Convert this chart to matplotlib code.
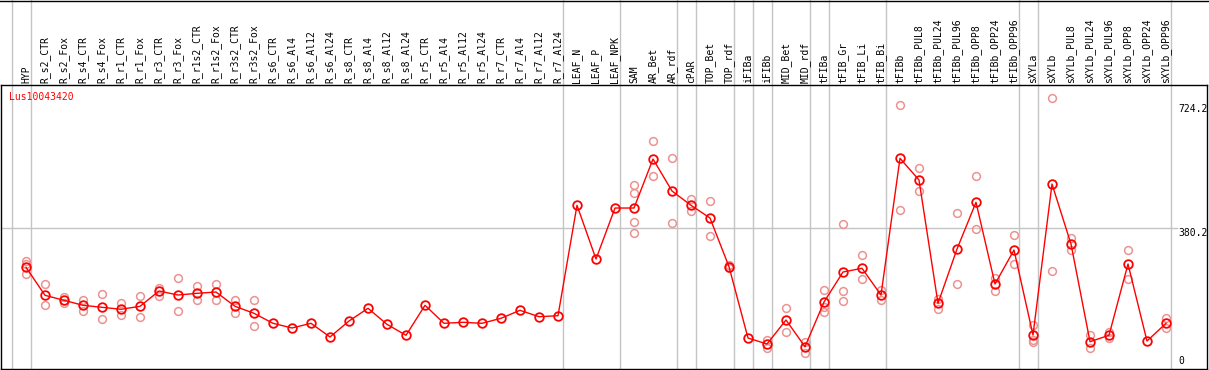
import matplotlib
matplotlib.use("Agg")
import matplotlib.pyplot as plt
from matplotlib.transforms import blended_transform_factory
from matplotlib.lines import Line2D

gene = "Lus10043420"

labels = ["HYP", "R_s2_CTR", "R_s2_Fox", "R_s4_CTR", "R_s4_Fox", "R_r1_CTR", "R_r1_Fox",
          "R_r3_CTR", "R_r3_Fox", "R_r1s2_CTR", "R_r1s2_Fox", "R_r3s2_CTR", "R_r3s2_Fox",
          "R_s6_CTR", "R_s6_Al4", "R_s6_Al12", "R_s6_Al24", "R_s8_CTR", "R_s8_Al4",
          "R_s8_Al12", "R_s8_Al24", "R_r5_CTR", "R_r5_Al4", "R_r5_Al12", "R_r5_Al24",
          "R_r7_CTR", "R_r7_Al4", "R_r7_Al12", "R_r7_Al24", "LEAF_N", "LEAF_P", "LEAF_NPK",
          "SAM", "AR_Bet", "AR_rdf", "cPAR", "TOP_Bet", "TOP_rdf", "iFIBa", "iFIBb",
          "MID_Bet", "MID_rdf", "tFIBa", "tFIB_Gr", "tFIB_Li", "tFIB_Bi", "tFIBb",
          "tFIBb_PUL8", "tFIBb_PUL24", "tFIBb_PUL96", "tFIBb_OPP8", "tFIBb_OPP24",
          "tFIBb_OPP96", "sXYLa", "sXYLb", "sXYLb_PUL8", "sXYLb_PUL24", "sXYLb_PUL96",
          "sXYLb_OPP8", "sXYLb_OPP24", "sXYLb_OPP96"]

means = [272.5, 195.2, 181.4, 167.6, 162.1, 156.6, 164.8, 207.1, 196.0, 200.7, 204.3,
         164.8, 145.5, 117.9, 104.9, 117.9, 80.1, 124.2, 159.3, 115.1, 84.8, 167.6,
         117.9, 120.7, 117.9, 131.7, 153.8, 136.1, 138.9, 443.7, 295.4, 436.2, 436.2,
         571.5, 483.2, 443.7, 408.6, 274.2, 77.3, 60.7, 127.0, 53.3, 176.7, 259.5,
         269.8, 196.0, 573.5, 513.6, 173.1, 323.0, 452.0, 226.4, 320.3, 85.6, 502.5,
         336.8, 67.1, 84.8, 281.6, 69.0, 117.9]

replicates = [
    [290.7, 282.5, 254.0], [225.6, 167.6], [191.3, 173.1], [182.2, 152.7], [198.8, 129.8],
    [173.1, 141.6], [192.4, 134.5], [216.2, 194.1], [242.1, 151.9], [220.9, 181.4],
    [225.6, 181.4], [182.2, 145.5], [182.2, 109.6], [], [], [], [], [], [], [], [], [],
    [], [], [], [], [], [], [], [], [], [],
    [499.8, 476.8, 396.8, 366.4], [621.2, 523.8], [574.3, 394.0], [460.3, 428.8],
    [455.6, 358.9], [278.0, 270.0], [], [71.8, 48.9], [159.3, 93.9], [67.1, 36.7],
    [209.8, 163.7, 149.9], [391.2, 207.1, 179.5], [306.5, 239.4], [209.8, 182.2],
    [719.8, 430.7], [545.9, 482.4], [185.0, 158.2], [421.6, 226.4], [523.8, 377.4],
    [243.8, 206.3], [360.9, 280.8], [113.2, 71.8, 67.1], [739.1, 261.5], [353.4, 320.3],
    [85.6, 48.9], [94.7, 76.5], [320.3, 240.2], [], [131.7, 104.1]]

separators_after = [0, 1, 29, 32, 35, 36, 38, 39, 40, 42, 43, 46, 53, 54, 61]
ref_value = 380.2
top_value = 724.2

W, H = 1209, 370
fig = plt.figure(figsize=(W / 100, H / 100), dpi=100, facecolor="white")
ax = fig.add_axes([1 / W, 1 / H, 1206 / W, 284 / H])
ax.patch.set_visible(False)
ax.set_xlim(-6 / 19, 1200 / 19)
ax.set_ylim(-8.28, 775.9)
ax.set_xticks([])
ax.set_yticks([])
for s in ax.spines.values():
    s.set_color("black")
    s.set_linewidth(1.0)

font = "DejaVu Sans Mono"
fs = 7
blend = blended_transform_factory(ax.transData, fig.transFigure)

# separators (through header)
for s in separators_after:
    ax.plot([s + 0.24, s + 0.24], [1 / H, 1.0], transform=blend, color="#c4c4c4",
            lw=1.0, clip_on=False, zorder=0.5)
# reference horizontal line
ax.plot([-6 / 19, 1170 / 19], [ref_value, ref_value], color="#c4c4c4", lw=1.0,
        zorder=0.5, clip_on=False)

# header top line
fig.add_artist(Line2D([0, 1], [1 - 0.5 / H, 1 - 0.5 / H], transform=fig.transFigure,
                      color="black", lw=1.0))

xs = list(range(1, len(labels) + 1))
for xi, lab in zip(xs, labels):
    ax.text(xi, (H - 83) / H, lab, transform=blend, rotation=90, ha="center",
            va="bottom", fontsize=fs, family=font, color="black")

# replicates
rx, ry = [], []
for xi, reps in zip(xs, replicates):
    for r in reps:
        rx.append(xi)
        ry.append(r)
ax.plot(rx, ry, linestyle="none", marker="o", ms=5.6, mfc="none", mec="#ec9292",
        mew=1.1, zorder=2, clip_on=False)

# means
ax.plot(xs, means, color="red", lw=1.0, zorder=3)
ax.plot(xs, means, linestyle="none", marker="o", ms=6.2, mfc="none", mec="red",
        mew=1.3, zorder=4)

# y labels
ylab_x = 1171 / 19
ax.text(ylab_x, top_value, f"{top_value}", ha="left", va="top", fontsize=fs,
        family=font)
ax.text(ylab_x, ref_value, f"{ref_value}", ha="left", va="top", fontsize=fs,
        family=font)
ax.text(ylab_x, 0, "0", ha="left", va="bottom", fontsize=fs, family=font)

# gene name
ax.text(2 / 19, (H - 92) / H, gene, transform=blend, ha="left", va="top",
        fontsize=fs, family=font, color="red")

fig.savefig("out.png", dpi=100, facecolor="white")
